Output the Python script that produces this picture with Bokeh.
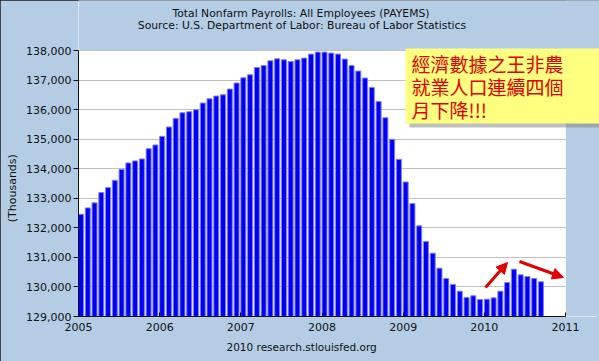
import numpy as np
from bokeh.plotting import figure
from bokeh.models import (ColumnDataSource, Label, Arrow, NormalHead, FixedTicker, Title,
                          BoxAnnotation, NumeralTickFormatter, PrintfTickFormatter)
from bokeh.embed import file_html
from bokeh.resources import INLINE

# ---- data, thousands of employees, monthly Jan 2005 - Sep 2010
start_year = 2005
payems_2005 = [132459, 132675, 132845, 133193, 133361, 133608, 133980, 134196, 134264, 134331, 134679, 134804]
payems_2006 = [135095, 135412, 135703, 135895, 135929, 135997, 136223, 136368, 136459, 136503, 136696, 136899]
payems_2007 = [137078, 137179, 137426, 137493, 137652, 137720, 137686, 137628, 137686, 137743, 137878, 137946]
payems_2008 = [137946, 137912, 137878, 137709, 137493, 137304, 137068, 136750, 136277, 135726, 134993, 134318]
payems_2009 = [133551, 132821, 132067, 131537, 131142, 130635, 130287, 130084, 129858, 129645, 129700, 129574]
payems_2010 = [129585, 129632, 129858, 130152, 130601, 130412, 130354, 130287, 130175]
year_ticks = [2005, 2006, 2007, 2008, 2009, 2010, 2011]
y_ticks = [129000, 130000, 131000, 132000, 133000, 134000, 135000, 136000, 137000, 138000]

title1 = "Total Nonfarm Payrolls: All Employees (PAYEMS)"
title2 = "Source: U.S. Department of Labor: Bureau of Labor Statistics"
y_label = "(Thousands)"
footer = "2010 research.stlouisfed.org"
note_lines = ["經濟數據之王非農", "就業人口連續四個", "月下降!!!"]

values = payems_2005 + payems_2006 + payems_2007 + payems_2008 + payems_2009 + payems_2010
months = np.arange(len(values))
left = start_year + months / 12.0
right = left + 0.74 / 12.0
src = ColumnDataSource(dict(left=left, right=right, top=values, bottom=[129000] * len(values)))

BG = "#b5cde4"
FONT = "DejaVu Sans"
TXT = "#111111"
W, H = 599, 361
PXY = 487 / 6          # px per year
PXK = 266 / 9000       # px per thousand

def xd(px):
    return 2005 + (px - 78) / PXY

def yd(py):
    return 138000 - (py - 50) / PXK

p = figure(width=W, height=H, x_range=(2005, xd(W)), y_range=(129000, yd(0)),
           output_backend="svg", toolbar_location=None, title=None,
           min_border_left=78, min_border_right=0, min_border_top=0, min_border_bottom=H - 316,
           background_fill_color="white", border_fill_color=BG, outline_line_color=None)
p.styles = {"outline": "2px solid #1e1e1e", "outline-offset": "-2px"}

p.quad(left="left", right="right", top="top", bottom="bottom", source=src,
       fill_color="#0000f2", line_color="#8080ff", line_width=1)

# axes
p.xgrid.grid_line_color = None
p.ygrid.grid_line_color = "#c0c0c0"
p.ygrid.ticker = FixedTicker(ticks=y_ticks)
p.yaxis.ticker = FixedTicker(ticks=y_ticks)
p.yaxis.formatter = NumeralTickFormatter(format="0,0")
p.xaxis.ticker = FixedTicker(ticks=year_ticks)
p.xaxis.formatter = PrintfTickFormatter(format="%d")
p.xaxis.bounds = (2005, 2011)
p.yaxis.bounds = (129000, 138000)
for ax in (p.xaxis, p.yaxis):
    ax.major_label_text_font = FONT
    ax.major_label_text_font_size = "11px"
    ax.major_label_text_color = TXT
    ax.axis_line_color = TXT
    ax.major_tick_line_color = TXT
    ax.minor_tick_line_color = None
p.yaxis.major_tick_out = 5
p.yaxis.major_tick_in = 0
p.yaxis.major_label_standoff = 2
# the frame reaches the top of the canvas, so pad the label's end with no-break
# spaces to bring the visible words down to the middle of the 129,000-138,000 span
p.yaxis.axis_label = y_label + "\u00a0" * 17
p.yaxis.axis_label_text_font = FONT
p.yaxis.axis_label_text_font_size = "11px"
p.yaxis.axis_label_text_font_style = "normal"
p.yaxis.axis_label_text_color = TXT
p.yaxis.axis_label_standoff = 4
p.xaxis.major_tick_out = 0
p.xaxis.major_tick_in = 4
p.xaxis.major_label_standoff = 6

# footer below the axis
p.add_layout(Title(text=footer, align="left", offset=226 - 78, standoff=11, text_font=FONT,
                   text_font_size="10.5px", text_font_style="normal", text_color=TXT), "below")

# blue margins inside the extended frame (right of 2011 and above 138,000)
p.add_layout(BoxAnnotation(left=2011 + 0.5 / PXY, fill_color=BG, fill_alpha=1, line_color=None))
p.add_layout(BoxAnnotation(bottom=138000 + 0.6 / PXK, fill_color=BG, fill_alpha=1, line_color=None))

# titles
p.add_layout(Label(x=xd(300.5), y=yd(13), text=title1, text_align="center", text_baseline="middle",
                   text_font=FONT, text_font_size="10.8px", text_color=TXT))
p.add_layout(Label(x=xd(301.5), y=yd(24.5), text=title2, text_align="center", text_baseline="middle",
                   text_font=FONT, text_font_size="10.8px", text_color=TXT))

# annotation note: shadow, yellow box (text drawn in the box colour), then the red lines
NOTE_FONT = "Noto Sans CJK TC"
box_style = dict(text=note_lines[0], text_align="left", text_baseline="top", text_font=NOTE_FONT,
                 text_font_size="19px", text_line_height=1.0, padding=(27, 22, 42, 6))
p.add_layout(Label(x=xd(405), y=yd(48), x_offset=4, y_offset=-4,
                   text_color="#9a9a9a", text_alpha=0.02,
                   background_fill_color="#8a8a8a", background_fill_alpha=0.55, **box_style))
p.add_layout(Label(x=xd(405), y=yd(48), text_color="#ffff80",
                   background_fill_color="#ffff80", **box_style))
for line, cy in zip(note_lines, [63, 86, 108.5]):
    p.add_layout(Label(x=xd(411), y=yd(cy), text=line, text_align="left", text_baseline="middle",
                       text_font=NOTE_FONT, text_font_size="19px", text_color="#e00000"))

# red arrows
p.add_layout(Arrow(x_start=xd(485), y_start=yd(287), x_end=xd(507), y_end=yd(262),
                   line_color="#e00000", line_width=3,
                   end=NormalHead(size=11, fill_color="#e00000", line_color="#e00000")))
p.add_layout(Arrow(x_start=xd(519), y_start=yd(261), x_end=xd(563), y_end=yd(277),
                   line_color="#e00000", line_width=3,
                   end=NormalHead(size=11, fill_color="#e00000", line_color="#e00000")))

open("out.html", "w").write(file_html(p, INLINE))
